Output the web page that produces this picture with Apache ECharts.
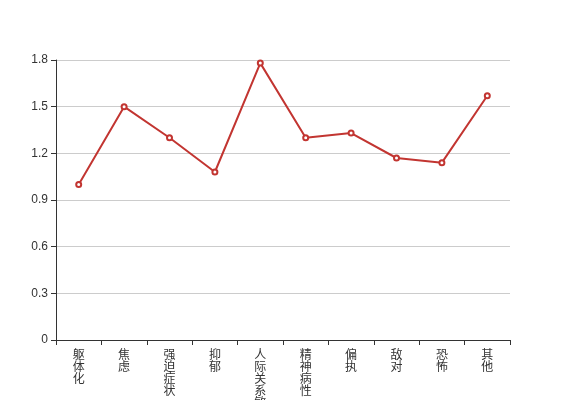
<!DOCTYPE html>
<html><head><meta charset="utf-8">
<script src="https://cdn.jsdelivr.net/npm/echarts@6/dist/echarts.min.js"></script>
<style>html,body{margin:0;padding:0;}#c{width:567px;height:400px;}</style>
</head><body><div id="c"></div>
<script>
var categories = ['躯体化','焦虑','强迫症状','抑郁','人际关系敏感','精神病性','偏执','敌对','恐怖','其他'];
var values = [1.00, 1.50, 1.30, 1.08, 1.78, 1.30, 1.33, 1.17, 1.14, 1.57];
var yTicks = {min: 0, max: 1.8, interval: 0.3};
var chart = echarts.init(document.getElementById('c'));
chart.setOption({
  animation: false,
  textStyle: {fontFamily: 'Liberation Sans, Noto Sans CJK SC, sans-serif'},
  grid: {left: 56, right: 57, top: 60, bottom: 60, containLabel: false, outerBoundsMode: 'none'},
  xAxis: {
    type: 'category', data: categories, boundaryGap: true,
    axisLine: {lineStyle: {color: '#333'}},
    axisTick: {show: true, lineStyle: {color: '#333'}},
    axisLabel: {color: '#333', fontSize: 12, lineHeight: 12, interval: 0, margin: 8,
      fontFamily: 'Noto Sans CJK SC',
      formatter: function (v) { return v.split('').join('\n'); }}
  },
  yAxis: {
    type: 'value', min: yTicks.min, max: yTicks.max, interval: yTicks.interval,
    axisLine: {show: true, lineStyle: {color: '#333'}},
    axisTick: {show: true, lineStyle: {color: '#333'}},
    axisLabel: {color: '#333', fontSize: 12, formatter: function (v) { return +v.toFixed(1) + ''; }},
    splitLine: {lineStyle: {color: '#ccc'}}
  },
  series: [{
    type: 'line', data: values, symbol: 'emptyCircle', symbolSize: 5,
    itemStyle: {color: '#c23531', borderWidth: 1}, lineStyle: {color: '#c23531', width: 2}
  }]
});
</script></body></html>
